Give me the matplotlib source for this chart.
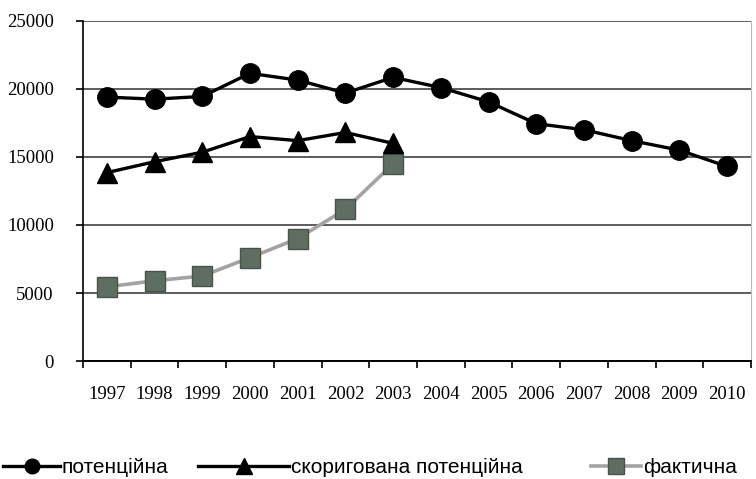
import matplotlib
matplotlib.use('Agg')
import matplotlib.pyplot as plt

# Рядки даних
years = ['1997', '1998', '1999', '2000', '2001', '2002', '2003',
         '2004', '2005', '2006', '2007', '2008', '2009', '2010']
potential = [19400, 19250, 19450, 21150, 20650, 19700, 20850,
             20100, 19050, 17450, 17000, 16200, 15500, 14300]
adjusted = [13850, 14650, 15350, 16500, 16200, 16800, 16000]
actual = [5450, 5900, 6250, 7600, 9000, 11150, 14500]

plt.rcParams['font.family'] = ['Liberation Serif', 'DejaVu Serif']

fig = plt.figure(figsize=(7.56, 4.79), dpi=100)
ax = fig.add_axes([0.1098, 0.2463, 0.8835, 0.7100])

x = list(range(len(years)))
l1, = ax.plot(x, potential, color='black', lw=2.4, marker='o', ms=14,
              label='потенційна', zorder=4)
l2, = ax.plot(x[:len(adjusted)], adjusted, color='black', lw=2.4, marker='^',
              ms=15, label='скоригована потенційна', zorder=4)
l3, = ax.plot(x[:len(actual)], actual, color='#a3a3a3', lw=2.6, ls='-',
              marker='s', ms=14.5, mfc='#5f6e62', mec='#47524a', mew=1,
              label='фактична', zorder=3)

ax.set_xlim(-0.5, len(years) - 0.5)
ax.set_ylim(0, 25000)
ax.set_yticks(range(0, 25001, 5000))
ax.set_xticks([i - 0.5 for i in range(len(years) + 1)], minor=False)
ax.set_xticklabels([])
ax.set_xticks(x, minor=True)
ax.set_xticklabels(years, minor=True)
ax.tick_params(axis='x', which='minor', length=0, pad=18, labelsize=13.5)
ax.tick_params(axis='x', which='major', length=5, width=1.2, direction='out')
ax.tick_params(axis='y', length=5, width=1.2, pad=16, labelsize=13.5)

ax.grid(axis='y', color='#303030', lw=1.1)
ax.set_axisbelow(True)
ax.spines['top'].set_visible(False)
ax.spines['right'].set_color('#bbbbbb')
ax.spines['left'].set_linewidth(1.2)
ax.spines['bottom'].set_linewidth(1.4)

# Легенда внизу: три окремі елементи
legend_font = {'family': ['Liberation Sans Narrow', 'Liberation Sans'],
               'size': 15}
for line, x0, hl in [(l1, -0.012, 2.7), (l2, 0.245, 4.4), (l3, 0.765, 2.4)]:
    fig.legend(handles=[line], loc='lower left', bbox_to_anchor=(x0, -0.022),
               frameon=False, prop=legend_font, handlelength=hl,
               handletextpad=0.1, markerscale=0.75, borderaxespad=0.2)

fig.savefig('out.png', dpi=100)
